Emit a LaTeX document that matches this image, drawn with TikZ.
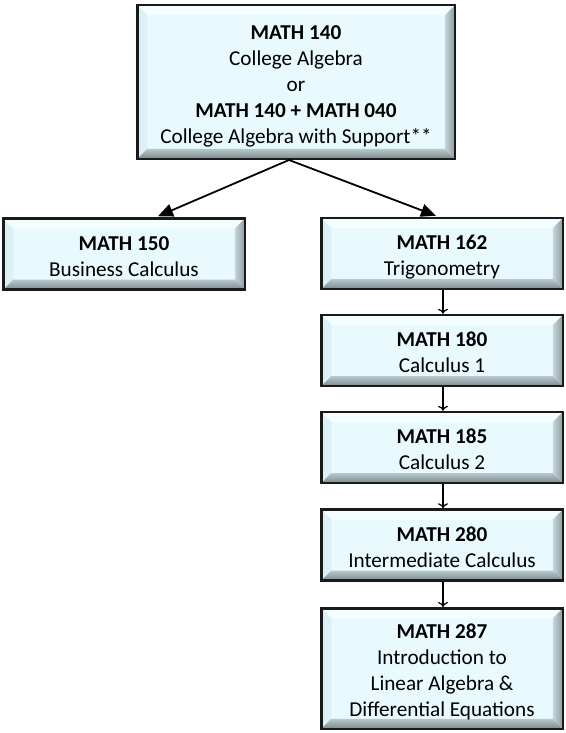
\documentclass[tikz,border=0pt]{standalone}
\usepackage{fontspec}
\setmainfont{Carlito}
\usetikzlibrary{arrows.meta}

\definecolor{boxfill}{HTML}{E8FAFD}
\definecolor{boxline}{HTML}{1A1A1A}
\definecolor{bevtop}{HTML}{F4FDFF}
\definecolor{bevleft}{HTML}{DCF1F5}
\definecolor{bevrA}{HTML}{C6D6DA}
\definecolor{bevrB}{HTML}{8C9CA0}
\definecolor{bevbA}{HTML}{B8C8CC}
\definecolor{bevbB}{HTML}{7C8A8E}

% course text, set a little below the middle of its box
\newcommand{\crstext}[1]{\raisebox{-4pt}[\height][\depth]{\begin{tabular}{@{}c@{}}#1\end{tabular}}}

\begin{document}
\begin{tikzpicture}[x=1pt,y=1pt,
  course/.style={draw=boxline, line width=2.5pt, fill=boxfill,
    minimum width=241.5pt, minimum height=71pt, inner sep=0pt,
    font=\fontsize{21.2}{26}\selectfont,
    path picture={
      \coordinate (nw) at (path picture bounding box.north west);
      \coordinate (ne) at (path picture bounding box.north east);
      \coordinate (sw) at (path picture bounding box.south west);
      \coordinate (se) at (path picture bounding box.south east);
      \fill[bevtop] (nw) -- (ne) -- ([shift={(-10pt,-10pt)}]ne) -- ([shift={(10pt,-10pt)}]nw) -- cycle;
      \fill[bevleft] (nw) -- ([shift={(10pt,-10pt)}]nw) -- ([shift={(10pt,10pt)}]sw) -- (sw) -- cycle;
      \shade[left color=bevrA, right color=bevrB] (ne) -- (se) -- ([shift={(-10pt,10pt)}]se) -- ([shift={(-10pt,-10pt)}]ne) -- cycle;
      \shade[top color=bevbA, bottom color=bevbB] (sw) -- (se) -- ([shift={(-10pt,10pt)}]se) -- ([shift={(10pt,10pt)}]sw) -- cycle;
    }},
  branch/.style={line width=1.8pt, -{Triangle[length=15pt,width=13pt]}},
  next/.style={line width=1.2pt, -{To[length=5pt,width=10pt]}}]
\useasboundingbox (0,0) rectangle (565,-733);

% top course
\node[course, minimum width=317.5pt, minimum height=153.5pt] (m140) at (296,-82)
  {\crstext{\textbf{MATH 140}\\College Algebra\\or\\\textbf{MATH 140 + MATH 040}\\College Algebra with Support**}};

% second row
\node[course] (m150) at (124,-254) {\crstext{\textbf{MATH 150}\\Business Calculus}};
\node[course] (m162) at (442,-253.5) {\crstext{\textbf{MATH 162}\\Trigonometry}};

% calculus sequence
\node[course] (m180) at (442,-350.5) {\crstext{\textbf{MATH 180}\\Calculus 1}};
\node[course] (m185) at (442,-447.5) {\crstext{\textbf{MATH 185}\\Calculus 2}};
\node[course] (m280) at (442,-545) {\crstext{\textbf{MATH 280}\\Intermediate Calculus}};
\node[course, minimum height=120.5pt] (m287) at (442,-668.5)
  {\crstext{\textbf{MATH 287}\\Introduction to\\Linear Algebra \&\\Differential Equations}};

\coordinate (split) at ([xshift=-7pt]m140.south);
\draw[branch] (split) -- ([xshift=34pt,yshift=1pt]m150.north);
\draw[branch] (split) -- ([xshift=-6pt,yshift=1pt]m162.north);

\draw[next] ([xshift=1pt]m162.south) -- ([xshift=1pt]m180.north);
\draw[next] ([xshift=1pt]m180.south) -- ([xshift=1pt]m185.north);
\draw[next] ([xshift=1pt]m185.south) -- ([xshift=1pt]m280.north);
\draw[next] ([xshift=1pt]m280.south) -- ([xshift=1pt]m287.north);
\end{tikzpicture}
\end{document}
